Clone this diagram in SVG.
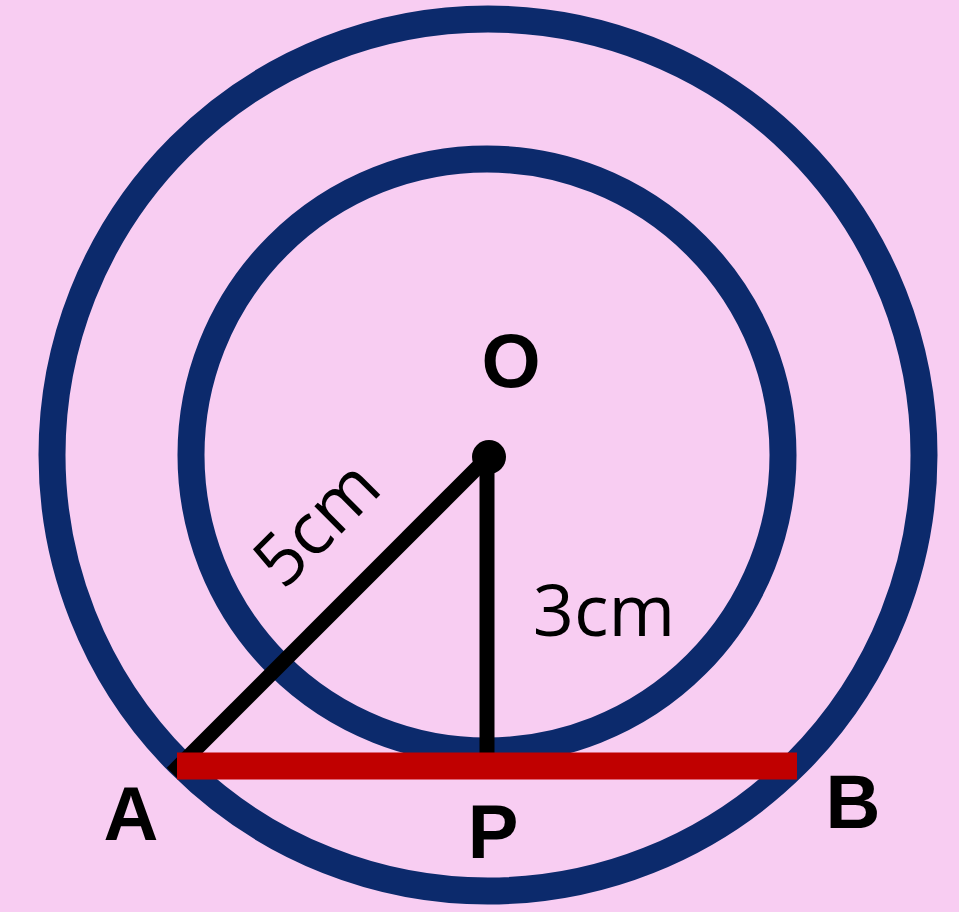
<svg xmlns="http://www.w3.org/2000/svg" width="959" height="912" viewBox="0 0 959 912">
<style>
.ring{fill:none;stroke:#0c2a6c;stroke-width:27}
.seg{stroke:#000;stroke-width:15;stroke-linecap:butt}
.lbl{font-family:"Liberation Sans",Arial,sans-serif;font-weight:bold;font-size:76px;fill:#000}
.len{font-family:"Open Sans","Liberation Sans",sans-serif;font-size:72px;fill:#000}
</style>
<rect width="959" height="912" fill="#f8cdf2"/>
<g id="outer-circle"><circle class="ring" cx="488" cy="455" r="436"/></g>
<g id="inner-circle"><circle class="ring" cx="487" cy="455" r="296"/></g>
<g id="connectors">
<line class="seg" x1="488" y1="457" x2="172" y2="773"/>
<line class="seg" x1="487" y1="457" x2="487" y2="760"/>
<line x1="177" y1="766" x2="797" y2="766" stroke="#c00000" stroke-width="27"/>
</g>
<g id="O"><circle cx="489" cy="457" r="17" fill="#000"/><text class="lbl" x="511" y="387" text-anchor="middle">O</text></g>
<g id="A"><text class="lbl" x="131" y="840" text-anchor="middle">A</text></g>
<g id="P"><text class="lbl" x="493" y="858" text-anchor="middle">P</text></g>
<g id="B"><text class="lbl" x="853" y="828" text-anchor="middle">B</text></g>
<g id="label-5cm"><text class="len" transform="translate(334,541) rotate(-45)" text-anchor="middle">5cm</text></g>
<g id="label-3cm"><text class="len" x="604" y="636" text-anchor="middle">3cm</text></g>
</svg>
